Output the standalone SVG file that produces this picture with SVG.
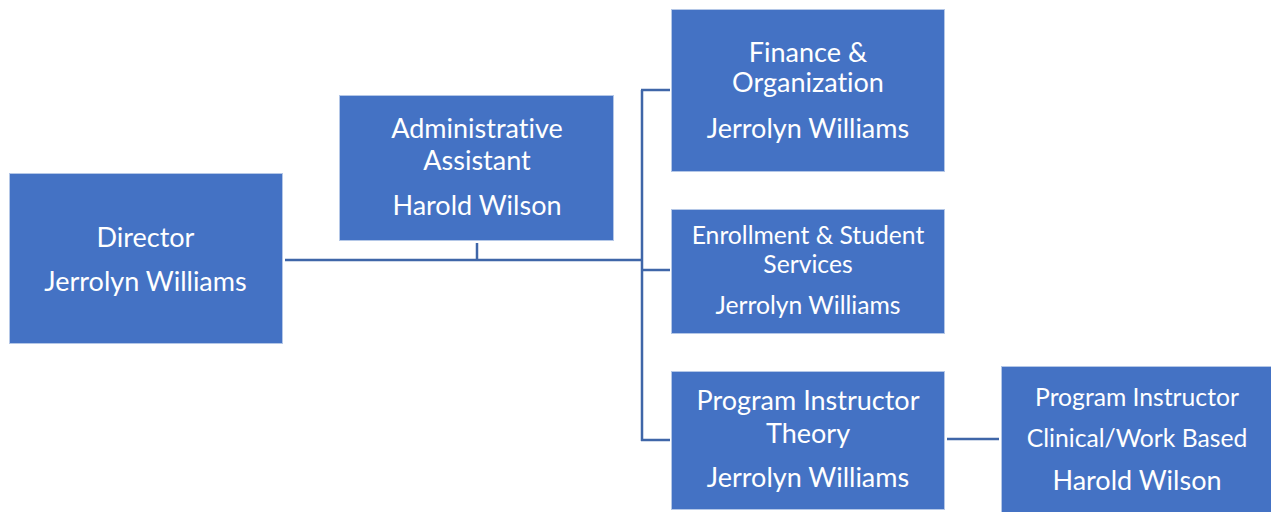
<svg xmlns="http://www.w3.org/2000/svg" width="1271" height="512" viewBox="0 0 1271 512">
<style>
.box{fill:#4472C4;stroke:#B4C7E7;stroke-width:1}
.t{font-family:Lato,"Open Sans",sans-serif;fill:#FFFFFF;text-anchor:middle;font-size:27px;font-variant-ligatures:none}
.s{font-size:24.7px}
.c{fill:none;stroke:#3F66A8;stroke-width:2.5}
</style>
<rect width="1271" height="512" fill="#FFFFFF"/>
<g id="connectors">
<path class="c" d="M285 260 H641"/>
<path class="c" d="M477 243 V260"/>
<path class="c" d="M642 90 V441"/>
<path class="c" d="M641 90 H670"/>
<path class="c" d="M641 270 H670"/>
<path class="c" d="M641 440 H670"/>
<path class="c" d="M947 439 H999"/>
</g>
<g id="director">
<rect class="box" x="9.5" y="173.5" width="273" height="170"/>
<text class="t" x="145.5" y="247">Director</text>
<text class="t" x="145.5" y="291">Jerrolyn Williams</text>
</g>
<g id="admin">
<rect class="box" x="339.5" y="95.5" width="274" height="145"/>
<text class="t" x="477" y="138">Administrative</text>
<text class="t" x="477" y="170">Assistant</text>
<text class="t" x="477" y="215">Harold Wilson</text>
</g>
<g id="finance">
<rect class="box" x="671.5" y="9.5" width="273" height="162"/>
<text class="t" x="808" y="62">Finance &amp;</text>
<text class="t" x="808" y="92">Organization</text>
<text class="t" x="808" y="138">Jerrolyn Williams</text>
</g>
<g id="enrollment">
<rect class="box" x="671.5" y="209.5" width="273" height="124"/>
<text class="t s" x="808" y="244">Enrollment &amp; Student</text>
<text class="t s" x="808" y="273">Services</text>
<text class="t s" x="808" y="314">Jerrolyn Williams</text>
</g>
<g id="theory">
<rect class="box" x="671.5" y="371.5" width="273" height="138"/>
<text class="t" x="808" y="410">Program Instructor</text>
<text class="t" x="808" y="443">Theory</text>
<text class="t" x="808" y="487">Jerrolyn Williams</text>
</g>
<g id="clinical">
<rect class="box" x="1001.5" y="366.5" width="272" height="150"/>
<text class="t s" x="1137" y="406">Program Instructor</text>
<text class="t s" x="1137" y="447">Clinical/Work Based</text>
<text class="t" x="1137" y="490">Harold Wilson</text>
</g>
</svg>
